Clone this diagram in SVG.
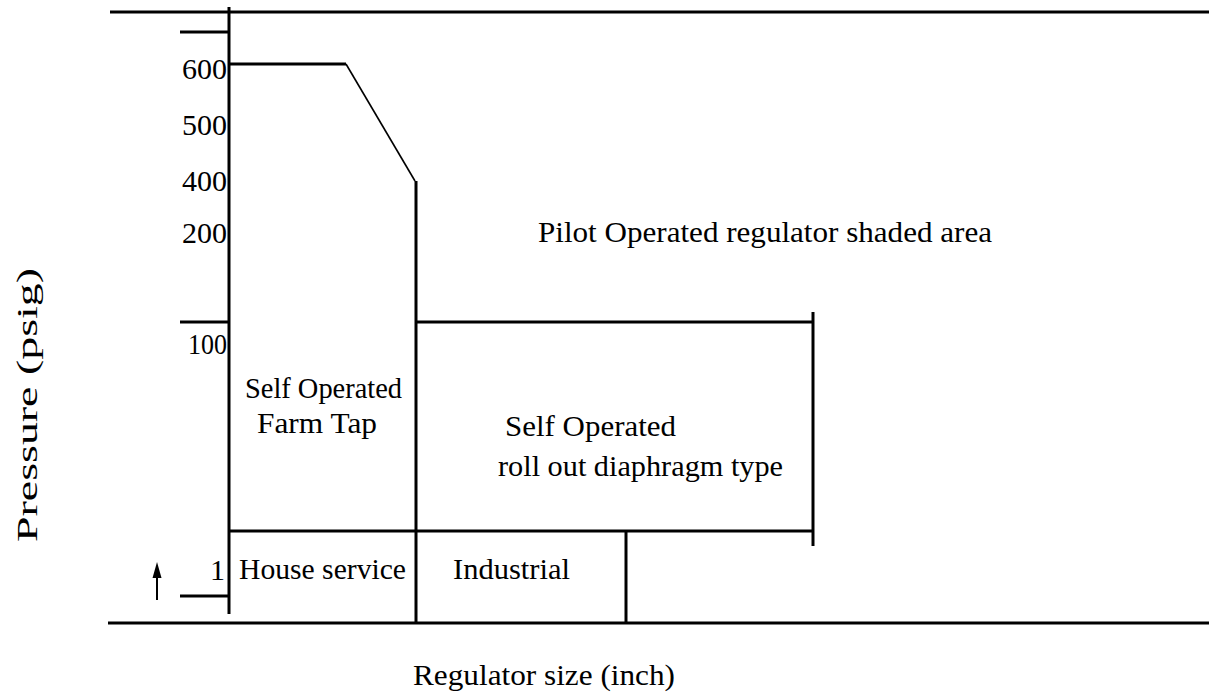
<svg xmlns="http://www.w3.org/2000/svg" width="1209" height="695" viewBox="0 0 1209 695">
<style>
.ln{stroke:#000;stroke-width:3;fill:none}
.thin{stroke:#000;stroke-width:1.6;fill:none}
text{font-family:"Liberation Serif","Times New Roman",serif;font-size:30px;fill:#000}
.r{text-anchor:end}
</style>
<rect width="1209" height="695" fill="#fff"/>
<g id="axes">
<line class="ln" x1="110" y1="12" x2="1209" y2="12"/>
<line class="ln" x1="229" y1="7" x2="229" y2="614"/>
<line class="ln" x1="108" y1="623" x2="1209" y2="623"/>
<line class="ln" x1="180" y1="32" x2="229" y2="32"/>
<line class="ln" x1="180" y1="322" x2="229" y2="322"/>
<line class="ln" x1="180" y1="596" x2="229" y2="596"/>
</g>
<g id="ticks">
<text class="r" x="227" y="79">600</text>
<text class="r" x="227" y="135">500</text>
<text class="r" x="227" y="191">400</text>
<text class="r" x="227" y="243">200</text>
<text class="r" x="227" y="354" textLength="39" lengthAdjust="spacingAndGlyphs">100</text>
<text class="r" x="225" y="580">1</text>
</g>
<g id="connectors">
<line class="ln" x1="229" y1="64" x2="346" y2="64"/>
<line class="thin" x1="346" y1="64" x2="415" y2="181"/>
<line class="ln" x1="416" y1="181" x2="416" y2="623"/>
<line class="ln" x1="416" y1="322" x2="813" y2="322"/>
<line class="ln" x1="813" y1="312" x2="813" y2="546"/>
<line class="ln" x1="229" y1="531" x2="813" y2="531"/>
<line class="ln" x1="626" y1="531" x2="626" y2="623"/>
</g>
<g id="arrow">
<line x1="157" y1="600" x2="157" y2="574" stroke="#000" stroke-width="2"/>
<polygon points="157,562 152.5,578 161.5,578" fill="#000"/>
</g>
<g id="pilot"><text x="538" y="242" textLength="454" lengthAdjust="spacingAndGlyphs">Pilot Operated regulator shaded area</text></g>
<g id="farmtap">
<text x="245" y="398" textLength="157" lengthAdjust="spacingAndGlyphs">Self Operated</text>
<text x="257" y="433" textLength="120" lengthAdjust="spacingAndGlyphs">Farm Tap</text>
</g>
<g id="rollout">
<text x="505" y="436" textLength="171" lengthAdjust="spacingAndGlyphs">Self Operated</text>
<text x="498" y="476" textLength="285" lengthAdjust="spacingAndGlyphs">roll out diaphragm type</text>
</g>
<g id="house"><text x="239" y="579" textLength="167" lengthAdjust="spacingAndGlyphs">House service</text></g>
<g id="industrial"><text x="453" y="579" textLength="117" lengthAdjust="spacingAndGlyphs">Industrial</text></g>
<g id="ylabel"><text transform="translate(37,542) rotate(-90)" textLength="274" lengthAdjust="spacingAndGlyphs">Pressure (psig)</text></g>
<g id="xlabel"><text x="413" y="685" textLength="262" lengthAdjust="spacingAndGlyphs">Regulator size (inch)</text></g>
</svg>
